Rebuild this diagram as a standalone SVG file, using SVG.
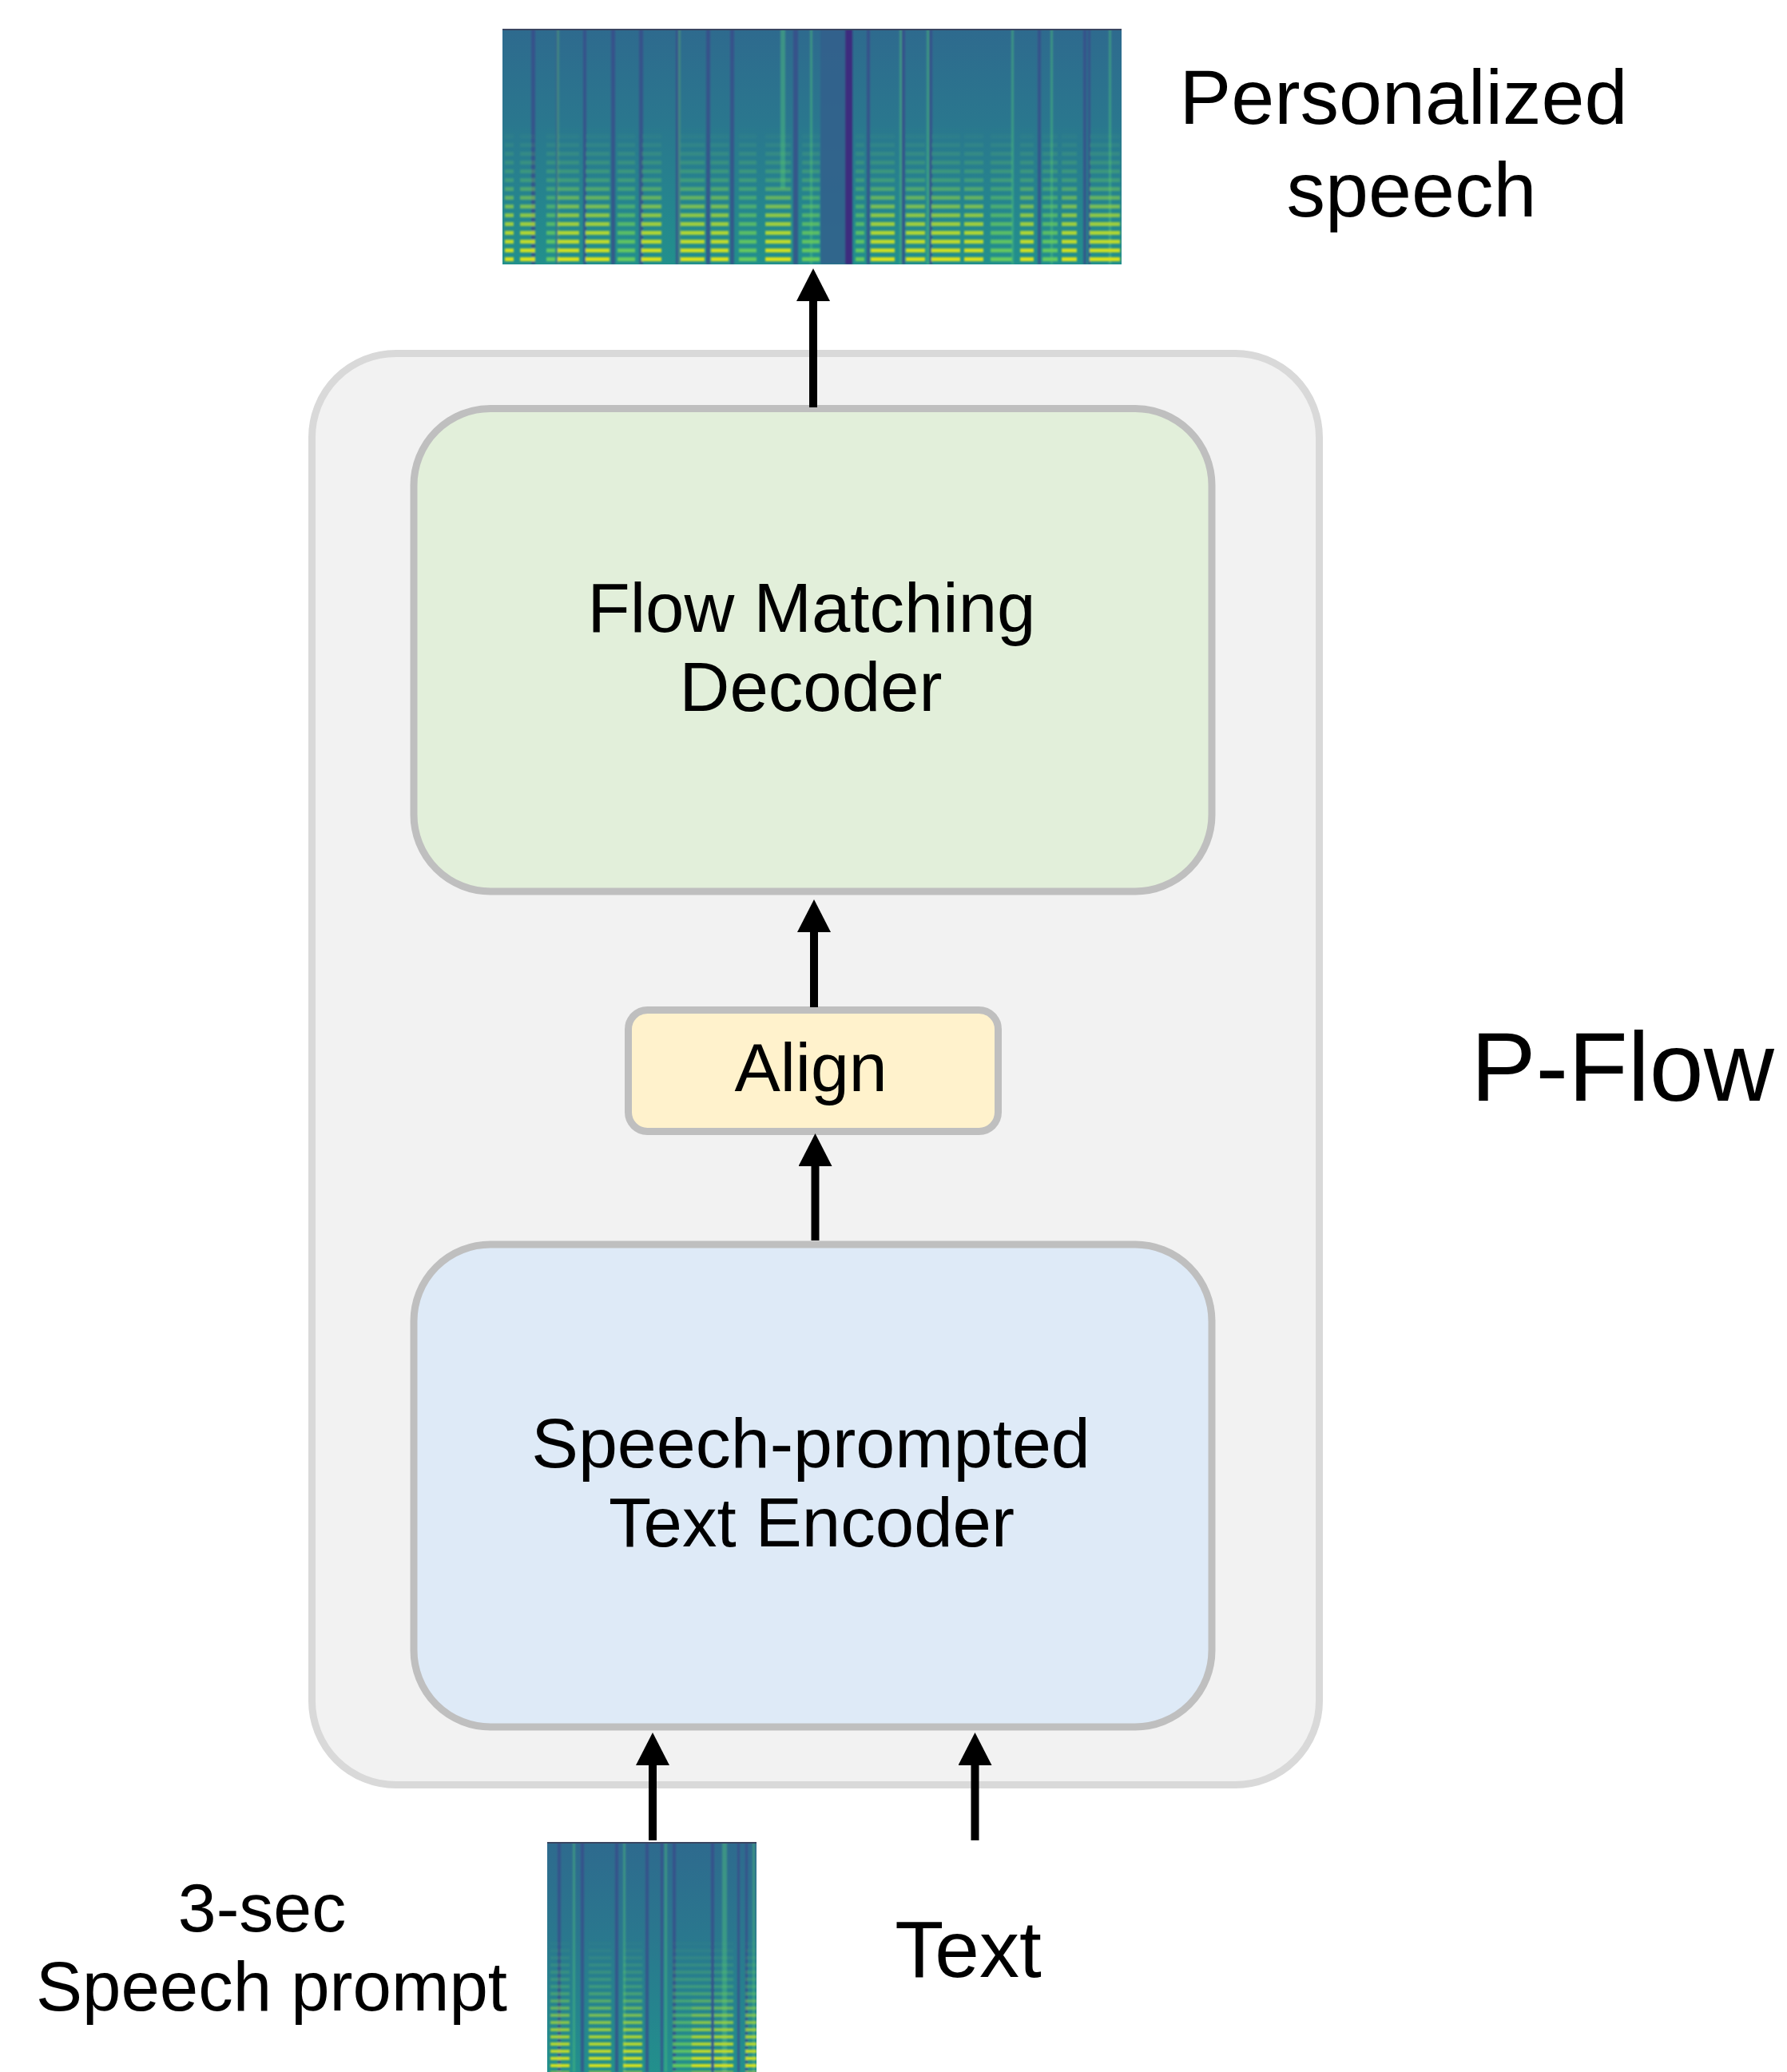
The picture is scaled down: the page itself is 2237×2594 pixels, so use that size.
<svg xmlns="http://www.w3.org/2000/svg" width="2237" height="2594" viewBox="0 0 2237 2594">
  <style>
    .lbl { font-family: "Liberation Sans", Arial, sans-serif; fill: #000; text-anchor: middle; }
    .box { stroke: #bfbfbf; stroke-width: 9; }
    .conn { stroke: #000; stroke-width: 10; fill: none; marker-end: url(#ah); }
    .dk { fill: #3b4a8a; }
    .lt { fill: #4fc47a; opacity: 0.45; }
    .vh { fill: url(#harm); }
    .vy { fill: url(#harmY); }
  </style>
  <defs>
    <marker id="ah" markerUnits="userSpaceOnUse" markerWidth="42" markerHeight="42" viewBox="0 0 40 41" refX="0" refY="20.5" orient="auto">
      <path d="M0,0 L40,20.5 L0,41 Z" fill="#000"/>
    </marker>
    <filter id="soft" x="-5%" y="-5%" width="110%" height="110%">
      <feGaussianBlur stdDeviation="1.2"/>
    </filter>
    <linearGradient id="specBase" x1="0" y1="0" x2="0" y2="1">
      <stop offset="0" stop-color="#2e6a8e"/>
      <stop offset="0.4" stop-color="#2a778e"/>
      <stop offset="0.75" stop-color="#25858e"/>
      <stop offset="1" stop-color="#22908c"/>
    </linearGradient>
    <linearGradient id="fade" x1="0" y1="0" x2="0" y2="1">
      <stop offset="0" stop-color="#000"/>
      <stop offset="0.42" stop-color="#000"/>
      <stop offset="0.72" stop-color="#777"/>
      <stop offset="1" stop-color="#fff"/>
    </linearGradient>
    <linearGradient id="fadeY" x1="0" y1="0" x2="0" y2="1">
      <stop offset="0" stop-color="#000"/>
      <stop offset="0.65" stop-color="#000"/>
      <stop offset="0.88" stop-color="#aaa"/>
      <stop offset="1" stop-color="#fff"/>
    </linearGradient>
    <pattern id="harm" patternUnits="userSpaceOnUse" x="0" y="3" width="20" height="11">
      <rect x="0" y="0" width="20" height="5" fill="#6ccd5a"/>
    </pattern>
    <pattern id="harmY" patternUnits="userSpaceOnUse" x="0" y="3" width="20" height="11">
      <rect x="0" y="0" width="20" height="5" fill="#dfe318"/>
    </pattern>
    <pattern id="harmB" patternUnits="userSpaceOnUse" x="0" y="1" width="20" height="9">
      <rect x="0" y="0" width="20" height="4" fill="#6ccd5a"/>
    </pattern>
    <pattern id="harmBY" patternUnits="userSpaceOnUse" x="0" y="1" width="20" height="9">
      <rect x="0" y="0" width="20" height="4" fill="#dfe318"/>
    </pattern>
    <clipPath id="clipTop"><rect x="629" y="36" width="775" height="295"/></clipPath>
    <clipPath id="clipBot"><rect x="685" y="2306" width="262" height="288"/></clipPath>
    <mask id="mTop" maskUnits="userSpaceOnUse" x="629" y="36" width="775" height="295">
      <rect x="629" y="36" width="775" height="295" fill="url(#fade)"/>
    </mask>
    <mask id="mTopY" maskUnits="userSpaceOnUse" x="629" y="36" width="775" height="295">
      <rect x="629" y="36" width="775" height="295" fill="url(#fadeY)"/>
    </mask>
    <mask id="mBot" maskUnits="userSpaceOnUse" x="685" y="2306" width="262" height="288">
      <rect x="685" y="2306" width="262" height="288" fill="url(#fade)"/>
    </mask>
    <mask id="mBotY" maskUnits="userSpaceOnUse" x="685" y="2306" width="262" height="288">
      <rect x="685" y="2306" width="262" height="288" fill="url(#fadeY)"/>
    </mask>
  </defs>

  <rect x="0" y="0" width="2237" height="2594" fill="#fff"/>

  <!-- P-Flow container -->
  <g id="p-flow-container">
    <rect x="390.5" y="442.5" width="1261" height="1792" rx="105" ry="105" fill="#f2f2f2" stroke="#d9d9d9" stroke-width="9"/>
    <text class="lbl" x="2031" y="1378" font-size="122">P-Flow</text>
  </g>

  <!-- Output spectrogram -->
  <g id="output-spectrogram" clip-path="url(#clipTop)">
    <rect x="629" y="36" width="775" height="295" fill="url(#specBase)"/>
    <g filter="url(#soft)">
      <g opacity="0.75">
        <rect class="dk" x="665" y="36" width="5" height="295"/>
        <rect class="dk" x="696" y="36" width="4" height="295"/>
        <rect class="dk" x="730" y="36" width="4" height="295"/>
        <rect class="dk" x="765" y="36" width="5" height="295"/>
        <rect class="dk" x="800" y="36" width="5" height="295"/>
        <rect class="dk" x="846" y="36" width="6" height="295"/>
        <rect class="dk" x="884" y="36" width="5" height="295"/>
        <rect class="dk" x="914" y="36" width="5" height="295"/>
        <rect class="dk" x="993" y="36" width="6" height="295"/>
        <rect class="dk" x="1085" y="36" width="4" height="295"/>
        <rect class="dk" x="1128" y="36" width="5" height="295"/>
        <rect class="dk" x="1163" y="36" width="4" height="295"/>
        <rect class="dk" x="1299" y="36" width="4" height="295"/>
        <rect class="dk" x="1356" y="36" width="4" height="295"/>
        <rect class="dk" x="1362" y="36" width="3" height="295"/>
      </g>
      <rect x="1027" y="36" width="40" height="295" fill="#335f8c" opacity="0.85"/>
      <rect x="1058" y="36" width="9" height="295" fill="#40287c" opacity="0.9"/>
      <g>
        <rect class="lt" x="697" y="36" width="3" height="295"/>
        <rect class="lt" x="849" y="36" width="3" height="295"/>
        <rect class="lt" x="977" y="36" width="6" height="200"/>
        <rect class="lt" x="1014" y="36" width="3" height="295"/>
        <rect class="lt" x="1126" y="36" width="3" height="295"/>
        <rect class="lt" x="1160" y="36" width="3" height="295"/>
        <rect class="lt" x="1266" y="36" width="3" height="295"/>
        <rect class="lt" x="1315" y="36" width="3" height="295"/>
        <rect class="lt" x="1388" y="36" width="3" height="295"/>
      </g>
      <g mask="url(#mTop)">
        <rect class="vh" x="632" y="36" width="11" height="295"/>
        <rect class="vh" x="651" y="36" width="19" height="295"/>
        <rect class="vh" x="684" y="36" width="11" height="295"/>
        <rect class="vh" x="698" y="36" width="27" height="295"/>
        <rect class="vh" x="733" y="36" width="30" height="295"/>
        <rect class="vh" x="773" y="36" width="22" height="295"/>
        <rect class="vh" x="803" y="36" width="25" height="295"/>
        <rect class="vh" x="852" y="36" width="30" height="295"/>
        <rect class="vh" x="890" y="36" width="22" height="295"/>
        <rect class="vh" x="925" y="36" width="22" height="295"/>
        <rect class="vh" x="958" y="36" width="32" height="295"/>
        <rect class="vh" x="1004" y="36" width="22" height="295"/>
        <rect class="vh" x="1071" y="36" width="11" height="295"/>
        <rect class="vh" x="1090" y="36" width="30" height="295"/>
        <rect class="vh" x="1134" y="36" width="24" height="295"/>
        <rect class="vh" x="1166" y="36" width="36" height="295"/>
        <rect class="vh" x="1207" y="36" width="24" height="295"/>
        <rect class="vh" x="1240" y="36" width="27" height="295"/>
        <rect class="vh" x="1277" y="36" width="17" height="295"/>
        <rect class="vh" x="1305" y="36" width="19" height="295"/>
        <rect class="vh" x="1329" y="36" width="19" height="295"/>
        <rect class="vh" x="1364" y="36" width="38" height="295"/>
      </g>
      <g mask="url(#mTopY)">
        <rect class="vy" x="632" y="36" width="11" height="295"/>
        <rect class="vy" x="651" y="36" width="19" height="295"/>
        <rect class="vy" x="698" y="36" width="27" height="295"/>
        <rect class="vy" x="733" y="36" width="30" height="295"/>
        <rect class="vy" x="803" y="36" width="25" height="295"/>
        <rect class="vy" x="852" y="36" width="30" height="295"/>
        <rect class="vy" x="890" y="36" width="22" height="295"/>
        <rect class="vy" x="958" y="36" width="32" height="295"/>
        <rect class="vy" x="1090" y="36" width="30" height="295"/>
        <rect class="vy" x="1134" y="36" width="24" height="295"/>
        <rect class="vy" x="1166" y="36" width="36" height="295"/>
        <rect class="vy" x="1207" y="36" width="24" height="295"/>
        <rect class="vy" x="1277" y="36" width="17" height="295"/>
        <rect class="vy" x="1329" y="36" width="19" height="295"/>
        <rect class="vy" x="1364" y="36" width="38" height="295"/>
      </g>
    </g>
    <rect x="629" y="36" width="775" height="2" fill="#3a4560"/>
  </g>
  <g id="output-label">
    <text class="lbl" x="1757" y="155" font-size="97">Personalized</text>
    <text class="lbl" x="1767" y="271" font-size="97">speech</text>
  </g>

  <!-- Flow Matching Decoder -->
  <g id="flow-matching-decoder">
    <rect class="box" x="518" y="511.5" width="999" height="604.5" rx="96" ry="96" fill="#e2efda"/>
    <text class="lbl" x="1016" y="791" font-size="87">Flow Matching</text>
    <text class="lbl" x="1015" y="890" font-size="87">Decoder</text>
  </g>

  <!-- Align -->
  <g id="align">
    <rect class="box" x="786.5" y="1264.5" width="463" height="152" rx="24" ry="24" fill="#fff2cc"/>
    <text class="lbl" x="1015" y="1366" font-size="86">Align</text>
  </g>

  <!-- Speech-prompted Text Encoder -->
  <g id="text-encoder">
    <rect class="box" x="518" y="1558" width="999" height="604" rx="96" ry="96" fill="#deeaf7"/>
    <text class="lbl" x="1015" y="1837" font-size="88">Speech-prompted</text>
    <text class="lbl" x="1016" y="1936" font-size="87">Text Encoder</text>
  </g>

  <!-- Speech prompt spectrogram -->
  <g id="prompt-spectrogram" clip-path="url(#clipBot)">
    <rect x="685" y="2306" width="262" height="288" fill="url(#specBase)"/>
    <g filter="url(#soft)">
      <g opacity="0.75">
        <rect class="dk" x="698" y="2306" width="4" height="288"/>
        <rect class="dk" x="727" y="2306" width="4" height="288"/>
        <rect class="dk" x="770" y="2306" width="4" height="288"/>
        <rect class="dk" x="808" y="2306" width="4" height="288"/>
        <rect class="dk" x="827" y="2306" width="3" height="288"/>
        <rect class="dk" x="842" y="2306" width="4" height="288"/>
        <rect class="dk" x="890" y="2306" width="4" height="288"/>
        <rect class="dk" x="923" y="2306" width="3" height="288"/>
        <rect class="dk" x="933" y="2306" width="3" height="288"/>
      </g>
      <g>
        <rect class="lt" x="717" y="2306" width="3" height="288"/>
        <rect class="lt" x="780" y="2306" width="3" height="288"/>
        <rect class="lt" x="832" y="2306" width="3" height="288"/>
        <rect class="lt" x="904" y="2306" width="6" height="288"/>
        <rect class="lt" x="942" y="2306" width="3" height="288"/>
      </g>
      <g mask="url(#mBot)">
        <rect x="689" y="2306" width="24" height="288" fill="url(#harmB)"/>
        <rect x="737" y="2306" width="28" height="288" fill="url(#harmB)"/>
        <rect x="780" y="2306" width="24" height="288" fill="url(#harmB)"/>
        <rect x="842" y="2306" width="24" height="288" fill="url(#harmB)"/>
        <rect x="866" y="2306" width="24" height="288" fill="url(#harmB)"/>
        <rect x="894" y="2306" width="24" height="288" fill="url(#harmB)"/>
        <rect x="933" y="2306" width="14" height="288" fill="url(#harmB)"/>
      </g>
      <g mask="url(#mBotY)">
        <rect x="689" y="2306" width="24" height="288" fill="url(#harmBY)"/>
        <rect x="737" y="2306" width="28" height="288" fill="url(#harmBY)"/>
        <rect x="780" y="2306" width="24" height="288" fill="url(#harmBY)"/>
        <rect x="866" y="2306" width="24" height="288" fill="url(#harmBY)"/>
        <rect x="894" y="2306" width="24" height="288" fill="url(#harmBY)"/>
        <rect x="933" y="2306" width="14" height="288" fill="url(#harmBY)"/>
      </g>
    </g>
    <rect x="685" y="2306" width="262" height="2" fill="#3a4560"/>
  </g>
  <g id="prompt-label">
    <text class="lbl" x="328" y="2418" font-size="86">3-sec</text>
    <text class="lbl" x="340" y="2517" font-size="87">Speech prompt</text>
  </g>

  <g id="text-input">
    <text class="lbl" x="1212" y="2475" font-size="100">Text</text>
  </g>

  <!-- Connectors -->
  <g id="connectors">
    <line class="conn" x1="1018" y1="510" x2="1018" y2="377"/>
    <line class="conn" x1="1019" y1="1261" x2="1019" y2="1167"/>
    <line class="conn" x1="1020.5" y1="1553" x2="1020.5" y2="1460"/>
    <line class="conn" x1="817" y1="2304" x2="817" y2="2210"/>
    <line class="conn" x1="1220.5" y1="2304" x2="1220.5" y2="2210"/>
  </g>
</svg>
